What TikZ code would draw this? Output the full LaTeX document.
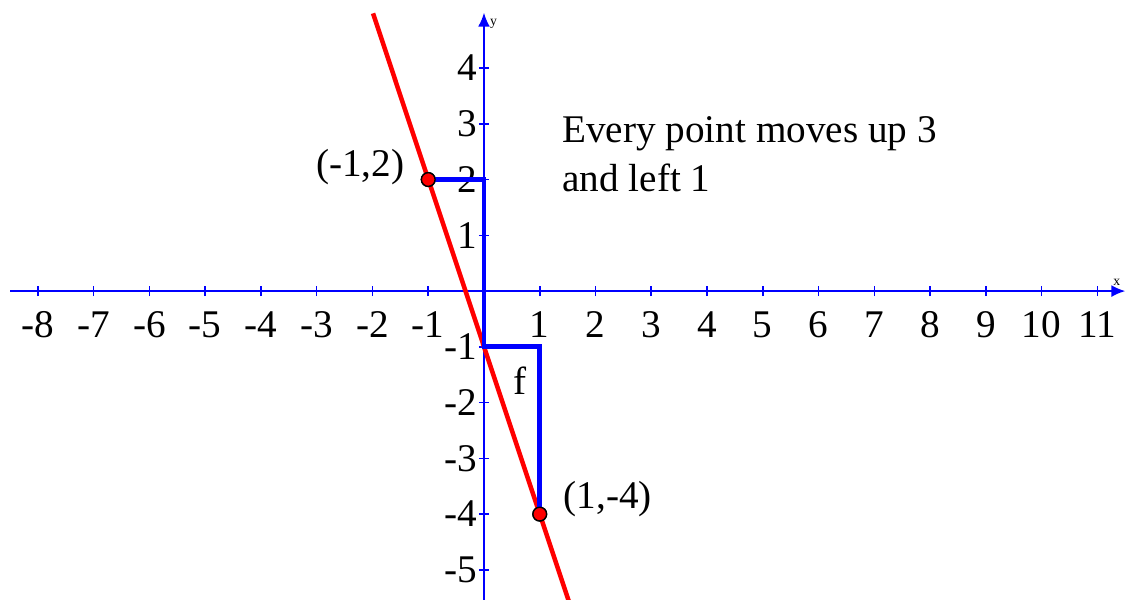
\documentclass[tikz,border=0pt]{standalone}
\usepackage{fontspec}
\setmainfont{Liberation Serif}
\usepackage{tikz}
\usetikzlibrary{arrows.meta, positioning}
\definecolor{axisblue}{HTML}{0000FF}
\definecolor{linered}{HTML}{FF0000}
\tikzset{
  axis/.style={draw=axisblue, line width=0.8pt, -{Latex[length=7pt, width=6pt]}},
  tick/.style={draw=axisblue, line width=0.8pt},
  ticklabel/.style={font=\fontsize{20}{23}\selectfont, inner sep=0pt},
  graphline/.style={draw=linered, line width=2.3pt},
  shiftpath/.style={draw=axisblue, line width=2.4pt},
  dot/.style={circle, draw=black, fill=linered, line width=0.7pt, minimum size=7pt, inner sep=0pt},
  biglabel/.style={font=\fontsize{20}{23}\selectfont, inner sep=0pt},
}

\begin{document}
\begin{tikzpicture}
\useasboundingbox (-8.68,-5.54) rectangle (11.55,5.22);

% axes
\coordinate (xstart) at (-8.5,0);
\coordinate (xend) at (11.5,0);
\coordinate (ystart) at (0,-5.6);
\coordinate (yend) at (0,4.99);
\draw[axis] (xstart) -- (xend);
\draw[axis] (ystart) -- (yend);
\node[font=\scriptsize, anchor=south, inner sep=1pt] (xlab) at (11.35,0.05) {x};
\node[font=\scriptsize, anchor=west, inner sep=1pt] (ylab) at (0.07,4.8) {y};

% ticks and numbers
\foreach \x in {-8,...,-1,1,2,...,11} {
  \draw[tick] (\x,-0.09) -- (\x,0.09);
  \node[ticklabel] (xt\x) at (\x,-0.6) {\x};
}
\foreach \y in {-5,...,-1,1,2,...,4} {
  \draw[tick] (-0.09,\y) -- (0.09,\y);
  \node[ticklabel, anchor=east] (yt\y) at (-0.12,\y) {\y};
}

% the line y = -3x - 1
\coordinate (ltop) at (-1.99,4.98);
\coordinate (lbot) at (1.52,-5.56);
\draw[graphline] (ltop) -- (lbot);

% the shift
\coordinate (s1) at (0,2);
\coordinate (s2) at (0,-1);
\coordinate (s3) at (1,-1);
\node[dot] (p) at (-1,2) {};
\node[dot] (q) at (1,-4) {};
\draw[shiftpath] (p.center) -- (s1) -- (s2) -- (s3) -- (q.center);
\node[dot] at (-1,2) {};
\node[dot] at (1,-4) {};

\node[biglabel, anchor=east] (plab) at (-1.42,2.22) {(-1,2)};
\node[biglabel, anchor=west] (qlab) at (1.42,-3.73) {(1,-4)};
\node[biglabel] (flab) at (0.65,-1.6) {f};

\node[biglabel, anchor=west, align=left] (note) at (1.4,2.45)
  {Every point moves up 3\\[2pt]and left 1};

\end{tikzpicture}
\end{document}
